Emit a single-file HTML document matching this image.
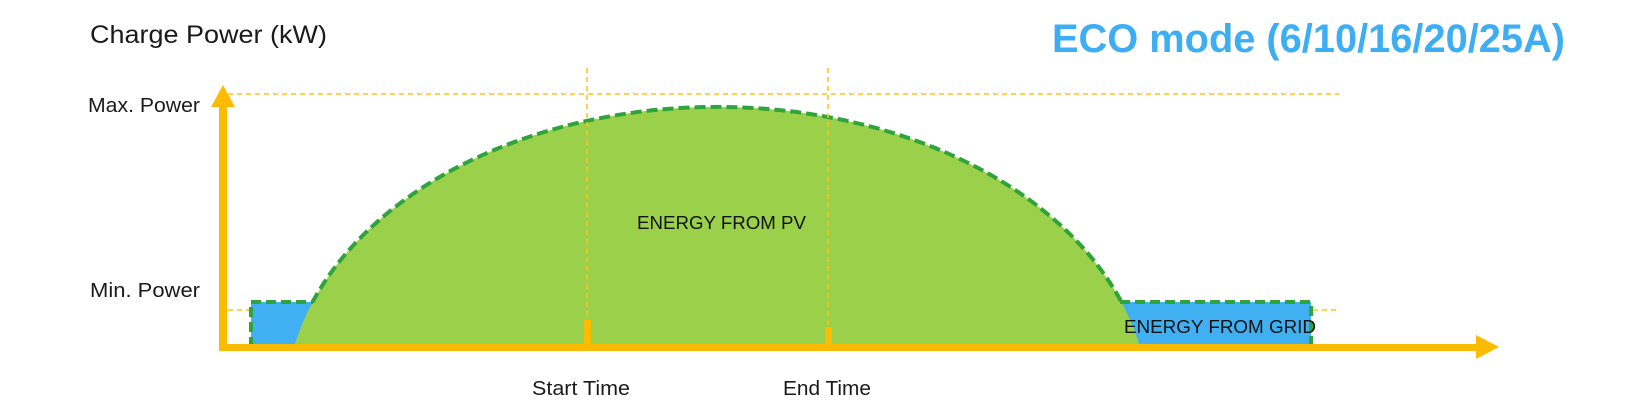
<!DOCTYPE html>
<html><head><meta charset="utf-8"><style>
html,body{margin:0;padding:0;background:#fff;width:1629px;height:418px;overflow:hidden}
text{font-family:"Liberation Sans",sans-serif}
</style></head><body>
<svg width="1629" height="418" viewBox="0 0 1629 418" xmlns="http://www.w3.org/2000/svg">
<defs>
<clipPath id="above"><rect x="0" y="0" width="1629" height="303"/></clipPath>
</defs>
<text x="90" y="43" font-size="25" fill="#1a1a1a" textLength="237" lengthAdjust="spacingAndGlyphs">Charge Power (kW)</text>
<text x="1052" y="52" font-size="40" font-weight="bold" fill="#3eaef4" textLength="513" lengthAdjust="spacingAndGlyphs">ECO mode (6/10/16/20/25A)</text>

<rect x="251" y="302" width="70" height="45" fill="#41b0f2"/>
<rect x="1100" y="302" width="211" height="45" fill="#41b0f2"/>
<path d="M294,347 A431.7,300 0 0 1 1140,347 Z" fill="#9ad04a"/>
<path d="M294,347 A431.7,300 0 0 1 1140,347" fill="none" stroke="#2fa33c" stroke-width="4" stroke-dasharray="11,5" clip-path="url(#above)"/>
<path d="M251,347 V302 H313" fill="none" stroke="#2fa33c" stroke-width="4" stroke-dasharray="10,5"/>
<path d="M1120,302 H1311 V347" fill="none" stroke="#2fa33c" stroke-width="4" stroke-dasharray="10,5"/>

<line x1="228" y1="94" x2="1339" y2="94" stroke="#ffc21a" stroke-width="1.5" stroke-dasharray="5,4"/>
<line x1="228" y1="310" x2="249" y2="310" stroke="#ffc21a" stroke-width="1.5" stroke-dasharray="5,4"/>
<line x1="1313" y1="310" x2="1337" y2="310" stroke="#ffc21a" stroke-width="1.5" stroke-dasharray="5,4"/>
<line x1="587" y1="68" x2="587" y2="322" stroke="#ffc21a" stroke-width="1.5" stroke-dasharray="5,4"/>
<line x1="828" y1="68" x2="828" y2="328" stroke="#ffc21a" stroke-width="1.5" stroke-dasharray="5,4"/>

<rect x="219" y="100" width="8" height="251" fill="#fbbb00"/>
<polygon points="223,85 211,107 235,107" fill="#fbbb00"/>
<rect x="219" y="344" width="1262" height="7" fill="#fbbb00"/>
<polygon points="1499,347 1476,335 1476,359" fill="#fbbb00"/>
<rect x="584" y="320" width="7" height="27" fill="#fbbb00"/>
<rect x="825" y="327" width="7" height="20" fill="#fbbb00"/>

<text x="88" y="112" font-size="20" fill="#1a1a1a" textLength="112" lengthAdjust="spacingAndGlyphs">Max. Power</text>
<text x="90" y="297" font-size="20" fill="#1a1a1a" textLength="110" lengthAdjust="spacingAndGlyphs">Min. Power</text>
<text x="532" y="395" font-size="20" fill="#1a1a1a" textLength="98" lengthAdjust="spacingAndGlyphs">Start Time</text>
<text x="783" y="395" font-size="20" fill="#1a1a1a" textLength="88" lengthAdjust="spacingAndGlyphs">End Time</text>
<text x="637" y="229" font-size="18" fill="#111" textLength="169" lengthAdjust="spacingAndGlyphs">ENERGY FROM PV</text>
<text x="1124" y="333" font-size="18" fill="#111" textLength="192" lengthAdjust="spacingAndGlyphs">ENERGY FROM GRID</text>
</svg>
</body></html>
